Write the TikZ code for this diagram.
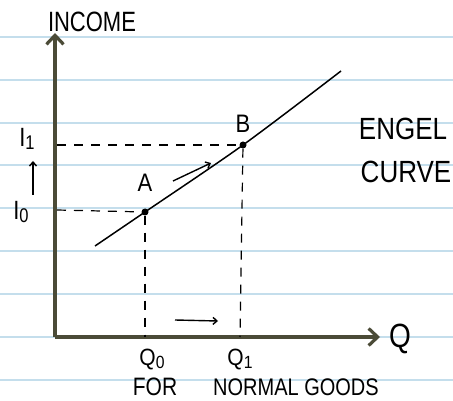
\documentclass[tikz,border=0pt]{standalone}
\usepackage{fontspec}
\usepackage{graphicx}
\setmainfont{Liberation Sans}
\usetikzlibrary{arrows.meta}
\definecolor{axiscol}{RGB}{75,75,55}
\definecolor{ruled}{RGB}{196,222,236}
\newcommand{\hw}[3]{\scalebox{1}[#2]{\fontsize{#1}{#1}\selectfont #3}}
\newcommand{\lowsub}[1]{\raisebox{-0.12em}{\scalebox{0.75}{#1}}}
\begin{document}
\begin{tikzpicture}[x=1pt,y=-1pt,
  axisline/.style={draw=axiscol,line width=3.2pt,-{Straight Barb[length=9pt,width=17pt]}},
  guide/.style={draw=black,line width=1.2pt,dash pattern=on 9pt off 8pt},
  dotpt/.style={circle,fill=black,inner sep=0pt,minimum size=7pt},
  hand/.style={inner sep=0pt},
  move/.style={draw=black,line width=1.4pt,-{Straight Barb[length=4pt,width=7pt]}}]
\useasboundingbox (0,0) rectangle (453,401);
% ruled paper
\foreach \yy in {37,80,123,165,208,251,294,337,380}
  \draw[ruled,line width=1.3pt] (0,\yy) -- (453,\yy);
% axes
\coordinate (O) at (55,337);
\coordinate (ytop) at (55,33);
\coordinate (xend) at (380,337);
\draw[axisline] (O) -- (ytop);
\draw[axisline] (O) -- (xend);
% Engel curve
\draw[line width=1.5pt] plot[smooth] coordinates {(95,246) (145,212) (243,145) (341,71)};
\node[dotpt] (A) at (145,212) {};
\node[dotpt] (B) at (243,145) {};
% guide lines
\coordinate (yI1) at (57,145);
\coordinate (yI0) at (57,210);
\coordinate (xQ0) at (145,337);
\coordinate (xQ1) at (240,337);
\draw[guide] (yI1) -- (B);
\draw[guide] (yI0) -- (A);
\draw[guide] (A) -- (xQ0);
\draw[guide] (B) -- (xQ1);
% movement arrows
\coordinate (m1s) at (173,181);
\coordinate (m1e) at (211,163);
\draw[move] (m1s) -- (m1e);
\coordinate (m2s) at (175,320);
\coordinate (m2e) at (218,321);
\draw[move] (m2s) -- (m2e);
\coordinate (m3s) at (33,195);
\coordinate (m3e) at (33,161);
\draw[move] (m3s) -- (m3e);
% labels
\node[hand] (lInc) at (92,22) {\hw{22}{1.27}{INCOME}};
\node[hand] (lQ) at (400,339) {\hw{28}{1.2}{Q}};
\node[hand] (lA) at (145,183) {\hw{22}{1.15}{A}};
\node[hand] (lB) at (243,124) {\hw{22}{1.15}{B}};
\node[hand] (lI1) at (27,139) {\hw{22}{1.2}{I\lowsub{1}}};
\node[hand] (lI0) at (21,212) {\hw{22}{1.2}{I\lowsub{0}}};
\node[hand] (lEng) at (403,129) {\hw{26}{1.18}{ENGEL}};
\node[hand] (lCur) at (406,172) {\hw{26}{1.18}{CURVE}};
\node[hand] (lQ0) at (152,360) {\hw{21}{1.12}{Q\lowsub{0}}};
\node[hand] (lQ1) at (240,360) {\hw{21}{1.12}{Q\lowsub{1}}};
\node[hand] (lFor) at (155,387) {\hw{21}{1.2}{FOR}};
\node[hand] (lNorm) at (296,387) {\hw{20}{1.2}{NORMAL GOODS}};
\end{tikzpicture}
\end{document}
